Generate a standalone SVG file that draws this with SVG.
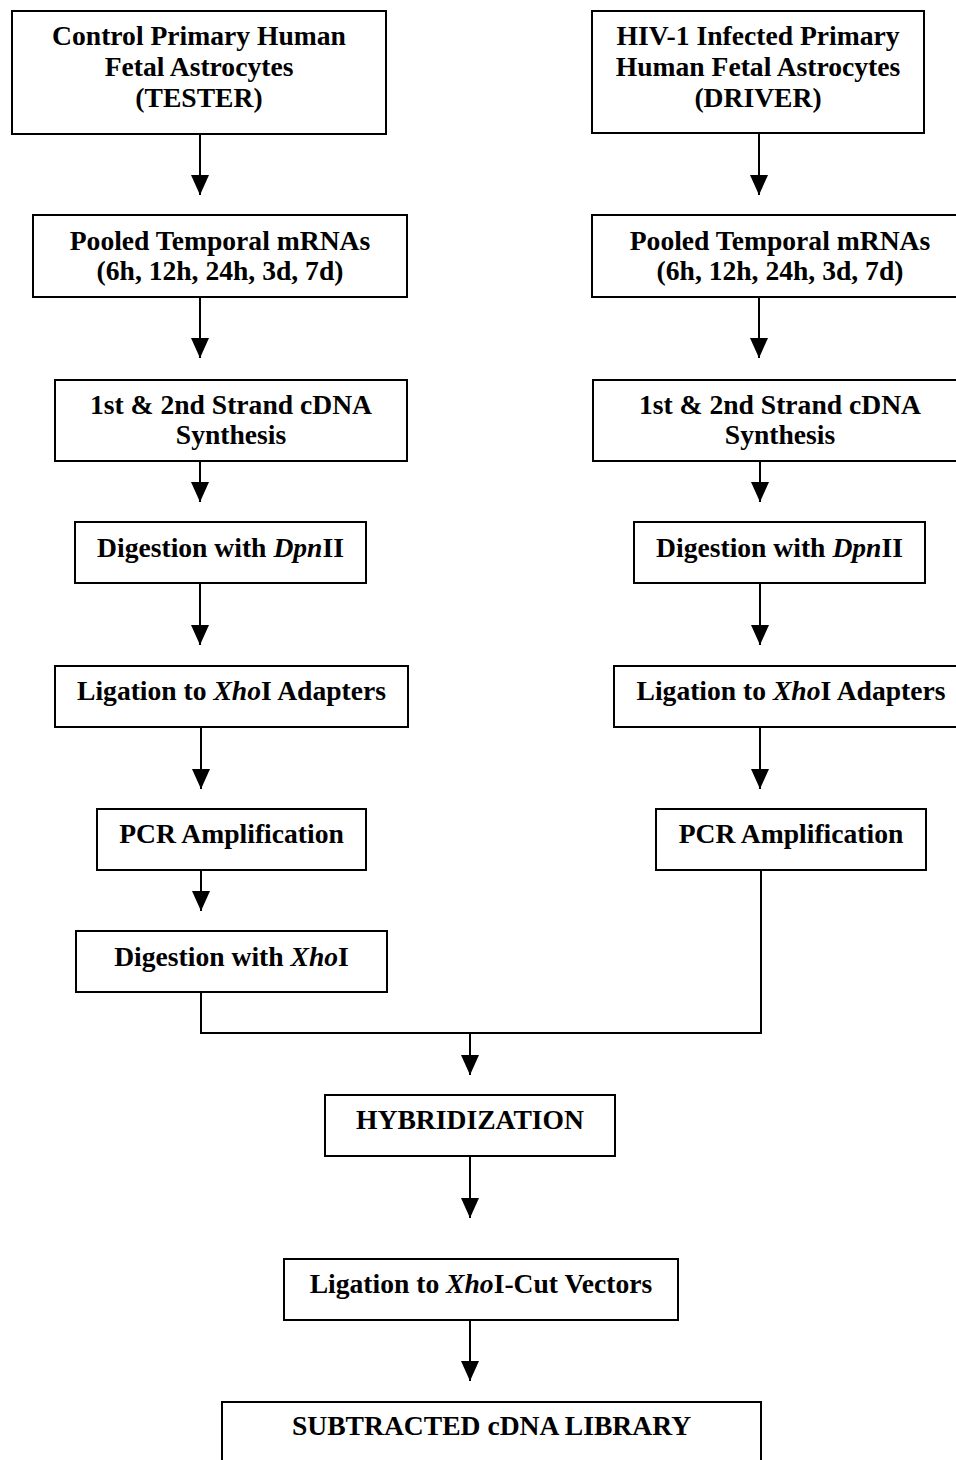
<svg xmlns="http://www.w3.org/2000/svg" width="956" height="1460" viewBox="0 0 956 1460">
<defs>
<marker id="ah" markerUnits="userSpaceOnUse" markerWidth="20" markerHeight="18" refX="20" refY="9" orient="auto" viewBox="0 0 20 18">
<path d="M0,0 L20,9 L0,18 Z" fill="#000"/>
</marker>
<style>
.box{fill:#fff;stroke:#000;stroke-width:2}
.t{font-family:"Liberation Serif","Times New Roman",serif;font-weight:bold;font-size:27.6px;fill:#000;text-anchor:middle}
.i{font-style:italic}
.c{fill:none;stroke:#000;stroke-width:2}
</style>
</defs>
<rect width="956" height="1460" fill="#fff"/>
<g id="connectors">
<line class="c" x1="200" y1="134" x2="200" y2="195" marker-end="url(#ah)"/>
<line class="c" x1="200" y1="297" x2="200" y2="358" marker-end="url(#ah)"/>
<line class="c" x1="200" y1="461" x2="200" y2="502" marker-end="url(#ah)"/>
<line class="c" x1="200" y1="583" x2="200" y2="645" marker-end="url(#ah)"/>
<line class="c" x1="201" y1="727" x2="201" y2="789" marker-end="url(#ah)"/>
<line class="c" x1="201" y1="870" x2="201" y2="911" marker-end="url(#ah)"/>
<line class="c" x1="759" y1="133" x2="759" y2="195" marker-end="url(#ah)"/>
<line class="c" x1="759" y1="297" x2="759" y2="358" marker-end="url(#ah)"/>
<line class="c" x1="760" y1="461" x2="760" y2="502" marker-end="url(#ah)"/>
<line class="c" x1="760" y1="583" x2="760" y2="645" marker-end="url(#ah)"/>
<line class="c" x1="760" y1="727" x2="760" y2="789" marker-end="url(#ah)"/>
<polyline class="c" points="201,992 201,1033 761,1033 761,870"/>
<line class="c" x1="470" y1="1033" x2="470" y2="1075" marker-end="url(#ah)"/>
<line class="c" x1="470" y1="1156" x2="470" y2="1218" marker-end="url(#ah)"/>
<line class="c" x1="470" y1="1320" x2="470" y2="1381" marker-end="url(#ah)"/>
</g>
<g id="tester">
<rect class="box" x="12" y="11" width="374" height="123"/>
<text class="t" x="199" y="45">Control Primary Human</text>
<text class="t" x="199" y="76">Fetal Astrocytes</text>
<text class="t" x="199" y="107">(TESTER)</text>
</g>
<g id="l-mrna">
<rect class="box" x="33" y="215" width="374" height="82"/>
<text class="t" x="220" y="250">Pooled Temporal mRNAs</text>
<text class="t" x="220" y="280">(6h, 12h, 24h, 3d, 7d)</text>
</g>
<g id="l-cdna">
<rect class="box" x="55" y="380" width="352" height="81"/>
<text class="t" x="231" y="414">1st &amp; 2nd Strand cDNA</text>
<text class="t" x="231" y="444">Synthesis</text>
</g>
<g id="l-dpn">
<rect class="box" x="75" y="522" width="291" height="61"/>
<text class="t" x="220.5" y="557">Digestion with <tspan class="i">Dpn</tspan>II</text>
</g>
<g id="l-lig">
<rect class="box" x="55" y="666" width="353" height="61"/>
<text class="t" x="231.5" y="700">Ligation to <tspan class="i">Xho</tspan>I Adapters</text>
</g>
<g id="l-pcr">
<rect class="box" x="97" y="809" width="269" height="61"/>
<text class="t" x="231.5" y="843">PCR Amplification</text>
</g>
<g id="l-xho">
<rect class="box" x="76" y="931" width="311" height="61"/>
<text class="t" x="231.5" y="966">Digestion with <tspan class="i">Xho</tspan>I</text>
</g>
<g id="driver">
<rect class="box" x="592" y="11" width="332" height="122"/>
<text class="t" x="758" y="45">HIV-1 Infected Primary</text>
<text class="t" x="758" y="76">Human Fetal Astrocytes</text>
<text class="t" x="758" y="107">(DRIVER)</text>
</g>
<g id="r-mrna">
<rect class="box" x="592" y="215" width="376" height="82"/>
<text class="t" x="780" y="250">Pooled Temporal mRNAs</text>
<text class="t" x="780" y="280">(6h, 12h, 24h, 3d, 7d)</text>
</g>
<g id="r-cdna">
<rect class="box" x="593" y="380" width="375" height="81"/>
<text class="t" x="780" y="414">1st &amp; 2nd Strand cDNA</text>
<text class="t" x="780" y="444">Synthesis</text>
</g>
<g id="r-dpn">
<rect class="box" x="634" y="522" width="291" height="61"/>
<text class="t" x="779.5" y="557">Digestion with <tspan class="i">Dpn</tspan>II</text>
</g>
<g id="r-lig">
<rect class="box" x="614" y="666" width="354" height="61"/>
<text class="t" x="791" y="700">Ligation to <tspan class="i">Xho</tspan>I Adapters</text>
</g>
<g id="r-pcr">
<rect class="box" x="656" y="809" width="270" height="61"/>
<text class="t" x="791" y="843">PCR Amplification</text>
</g>
<g id="hyb">
<rect class="box" x="325" y="1095" width="290" height="61"/>
<text class="t" x="470" y="1129">HYBRIDIZATION</text>
</g>
<g id="vec">
<rect class="box" x="284" y="1259" width="394" height="61"/>
<text class="t" x="481" y="1293">Ligation to <tspan class="i">Xho</tspan>I-Cut Vectors</text>
</g>
<g id="lib">
<rect class="box" x="222" y="1402" width="539" height="80"/>
<text class="t" x="491.5" y="1435">SUBTRACTED cDNA LIBRARY</text>
</g>
</svg>
